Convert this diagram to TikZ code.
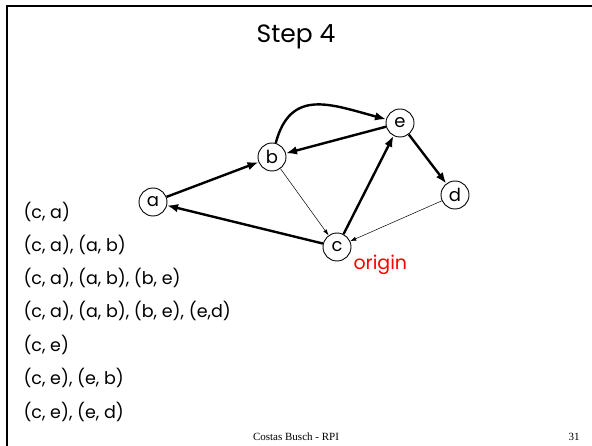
\documentclass[tikz,border=0pt]{standalone}
\usepackage{fontspec}
\setmainfont{Poppins}
\newfontfamily\slidefoot{Liberation Serif}
\usetikzlibrary{arrows,arrows.meta}

\begin{document}
\begin{tikzpicture}[>=latex,x=1pt,y=-1pt,
    vertex/.style={circle,draw,line width=0.9pt,minimum size=28pt,inner sep=0pt,font=\fontsize{18}{18}\selectfont},
    tree/.style={-{Latex[length=11pt,width=8.5pt]},line width=2.4pt},
    back/.style={-{Latex[length=6pt,width=4pt]},line width=0.5pt},
    pushed/.style={anchor=west,font=\fontsize{17.5}{17.5}\selectfont}]
    \useasboundingbox (0,0) rectangle (592,446);
    % slide frame and title
    \draw[line width=2pt] (592,6) -- (7,6) -- (7,446);
    \node[font=\fontsize{25}{25}\selectfont] (title) at (296,37) {Step 4};
    \path
    % graph
    (153,202) node[vertex] (a) {a}
    (272,157) node[vertex] (b) {b}
    (337,247) node[vertex] (c) {c}
    (455,195) node[vertex] (d) {d}
    (400,123) node[vertex] (e) {e};
    \node[red,anchor=west,font=\fontsize{19}{19}\selectfont] (origin) at (350,265) {origin};
    \draw[tree] (a) -- (b);
    \draw[tree] (c) -- (a);
    \draw[tree] (c) -- (e);
    \draw[tree] (e) -- (b);
    \draw[tree] (e) -- (d);
    \draw[tree] (b) to[out=75,in=165,looseness=1.3] (e);
    \draw[back] (b) -- (c);
    \draw[back] (d) -- (c);
    % edges pushed so far
    \node[pushed] (s1) at (20,212) {(c, a)};
    \node[pushed] (s2) at (20,245) {(c, a), (a, b)};
    \node[pushed] (s3) at (20,278) {(c, a), (a, b), (b, e)};
    \node[pushed] (s4) at (20,311) {(c, a), (a, b), (b, e), (e,d)};
    \node[pushed] (s5) at (20,345) {(c, e)};
    \node[pushed] (s6) at (20,378) {(c, e), (e, b)};
    \node[pushed] (s7) at (20,412) {(c, e), (e, d)};
    % footer
    \node[font=\slidefoot\fontsize{11}{11}\selectfont] (foot) at (296,437) {Costas Busch - RPI};
    \node[font=\slidefoot\fontsize{11}{11}\selectfont] (page) at (574,437) {31};
\end{tikzpicture}
\end{document}
